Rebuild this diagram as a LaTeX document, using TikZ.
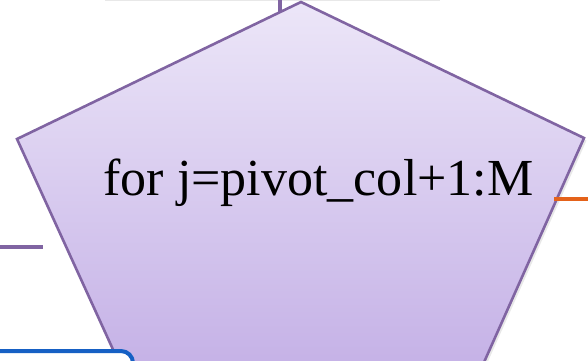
\documentclass[tikz,border=0pt]{standalone}
\usepackage{fontspec}
\setmainfont{Liberation Serif}
\usetikzlibrary{shadows,calc}
\definecolor{roxoBorda}{RGB}{128,100,162}
\definecolor{roxoClaro}{RGB}{236,230,248}
\definecolor{roxoEscuro}{RGB}{196,176,230}
\definecolor{laranjaLinha}{RGB}{228,98,26}
\definecolor{azulCaixa}{RGB}{22,96,196}
\tikzset{
  sombra/.style={drop shadow={shadow xshift=2.5pt, shadow yshift=-2.5pt, opacity=.15, fill=black!60}},
  laco/.style={draw=roxoBorda, line width=2.6pt, line join=miter, top color=roxoClaro, bottom color=roxoEscuro, sombra},
  caixa/.style={rectangle, fill=white, sombra},
  caixaazul/.style={draw=azulCaixa, line width=4pt, fill=white, rounded corners=12pt, sombra},
  liga/.style={draw=roxoBorda, line width=4pt},
  ligaout/.style={draw=laranjaLinha, line width=4pt},
  rotulo/.style={font=\fontsize{52}{60}\selectfont, inner sep=0pt},
}

\begin{document}
\begin{tikzpicture}[x=1pt, y=-1pt]
  \useasboundingbox (0,0) rectangle (588,360);
  % bloco anterior (fora da vista)
  \node[caixa, minimum width=335pt, minimum height=60pt, anchor=south] (prev) at (270,-1) {};
  % vertices do pentagono
  \coordinate (pt) at (301,2);
  \coordinate (pl) at (17,139);
  \coordinate (pr) at (584,138);
  \coordinate (bl) at (126,378);
  \coordinate (br) at (477,378);
  \coordinate (ent) at (280,12);
  \coordinate (sai) at (554,199);
  \coordinate (fora) at (590,199);
  \coordinate (volta) at (-5,247);
  \coordinate (voltafim) at (43,247);
  \draw[liga] (prev.south -| ent) -- (ent);
  \path[laco] (pt) -- (pr) -- (br) -- (bl) -- (pl) -- cycle;
  \node[rotulo, anchor=base] (cond) at (318.5,195) {for j=pivot\_col+1:M};
  \draw[ligaout] (sai) -- (fora);
  \draw[liga] (volta) -- (voltafim);
  \node[caixaazul, minimum width=160pt, minimum height=60pt, anchor=north east] (prox) at (135,349) {};
\end{tikzpicture}
\end{document}
